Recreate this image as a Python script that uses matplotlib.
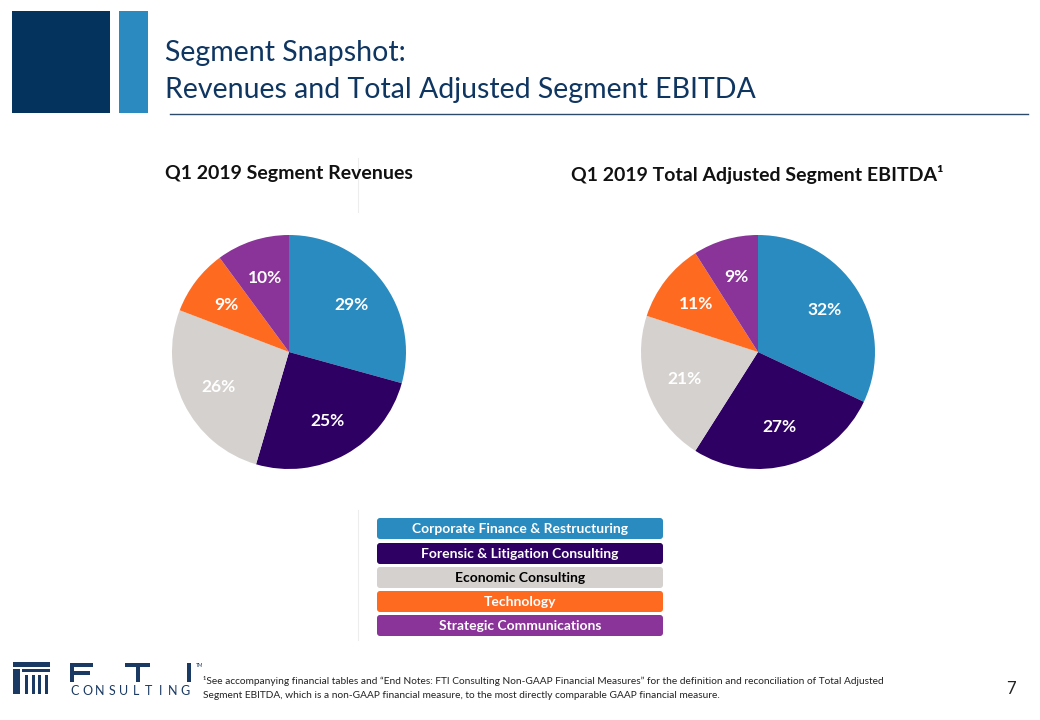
import matplotlib
matplotlib.use("Agg")
import matplotlib.pyplot as plt
from matplotlib.patches import Rectangle, FancyBboxPatch
from matplotlib.lines import Line2D

# ---- data ----
segments = ["Corporate Finance & Restructuring", "Forensic & Litigation Consulting",
            "Economic Consulting", "Technology", "Strategic Communications"]
revenue_pct = [29, 25, 26, 9, 10]
ebitda_pct = [32, 27, 21, 11, 9]
seg_colors = ["#2A8BC0", "#2E0063", "#D5D1CE", "#FF6A21", "#8A3399"]
legend_text_colors = ["white", "white", "black", "white", "white"]

title_lines = ["Segment Snapshot:", "Revenues and Total Adjusted Segment EBITDA"]
left_title = "Q1 2019 Segment Revenues"
right_title = "Q1 2019 Total Adjusted Segment EBITDA\u00b9"
footnote = ["\u00b9See accompanying financial tables and \u201cEnd Notes: FTI Consulting Non-GAAP Financial Measures\u201d for the definition and reconciliation of Total Adjusted",
            "Segment EBITDA, which is a non-GAAP financial measure, to the most directly comparable GAAP financial measure."]
page_no = "7"
logo_word = "CONSULTING"

W, H = 1040, 720
FONT = "Lato"
plt.rcParams["font.family"] = [FONT, "DejaVu Sans"]

fig = plt.figure(figsize=(W / 100, H / 100), dpi=100)
fig.patch.set_facecolor("white")

def fx(x):
    return x / W

def fy(y):
    return 1 - y / H

# background overlay axes in pixel coordinates
bg = fig.add_axes([0, 0, 1, 1])
bg.set_xlim(0, W)
bg.set_ylim(H, 0)
bg.axis("off")

# header blocks
bg.add_patch(Rectangle((12, 11), 98, 102, color="#04335E", lw=0))
bg.add_patch(Rectangle((119, 11), 29, 102, color="#2B8BC0", lw=0))
bg.text(165, 61, title_lines[0], fontsize=20.5, color="#0F3561", va="baseline", ha="left")
bg.text(165, 98, title_lines[1], fontsize=20.5, color="#0F3561", va="baseline", ha="left")
bg.add_line(Line2D([170, 1028], [114, 114], color="#2E4A6B", lw=1.0))

# faint divider lines
for y0, y1 in [(158, 212), (510, 640)]:
    bg.add_line(Line2D([358, 358], [y0, y1], color="#EDEDED", lw=0.8))

# chart titles
bg.text(289, 174, left_title, fontsize=14, fontweight="bold", color="#111111", ha="center", va="center")
bg.text(757, 174, right_title, fontsize=14, fontweight="bold", color="#111111", ha="center", va="center")

# pies
R = 117
def draw_pie(cx, cy, vals):
    ax = fig.add_axes([fx(cx - R), fy(cy + R), 2 * R / W, 2 * R / H])
    labels = [f"{v}%" for v in vals]
    wedges, texts = ax.pie(vals, colors=seg_colors, startangle=90, counterclock=False,
                           labels=labels, labeldistance=0.67,
                           wedgeprops=dict(linewidth=0))
    for t in texts:
        t.set_ha("center")
        t.set_va("center")
        t.set_color("white")
        t.set_fontweight("bold")
        t.set_fontsize(12.5)
    ax.set_xlim(-1, 1)
    ax.set_ylim(-1, 1)
    ax.set_aspect("auto")
    ax.axis("off")

draw_pie(289, 352, revenue_pct)
draw_pie(758, 352, ebitda_pct)

# legend boxes
ly = [517, 542, 566, 590, 614]
for i, (name, c, tc) in enumerate(zip(segments, seg_colors, legend_text_colors)):
    bg.add_patch(FancyBboxPatch((377, ly[i] + 1), 286, 21,
                                boxstyle="round,pad=0,rounding_size=3",
                                fc=c, ec="none"))
    bg.text(520, ly[i] + 12, name, fontsize=10, fontweight="bold", color=tc,
            ha="center", va="center")

# logo
navy = "#1B3A63"
# icon
bg.add_patch(Rectangle((13, 662), 37, 5, color=navy, lw=0))
bg.add_patch(Rectangle((22, 669), 28, 3, color=navy, lw=0))
bg.add_patch(Rectangle((13, 669), 7, 25, color=navy, lw=0))
for k in range(4):
    bg.add_patch(Rectangle((25 + k * 6.5, 675), 3, 19, color=navy, lw=0))
# letters F T I
bg.add_patch(Rectangle((70, 663), 4, 19, color=navy, lw=0))
bg.add_patch(Rectangle((70, 663), 23, 4, color=navy, lw=0))
bg.add_patch(Rectangle((70, 671), 20, 4, color=navy, lw=0))
bg.add_patch(Rectangle((125, 663), 25, 4, color=navy, lw=0))
bg.add_patch(Rectangle((135.5, 663), 4, 19, color=navy, lw=0))
bg.add_patch(Rectangle((187, 663), 4, 19, color=navy, lw=0))
bg.text(196, 663, "TM", fontsize=3.5, color=navy, ha="left", va="top")
for k, ch in enumerate(logo_word):
    bg.text(75 + k * 12.2, 695, ch, fontsize=9, color=navy, ha="center", va="baseline")

# footnote
bg.text(203, 684, footnote[0], fontsize=7.3, color="#222222", ha="left", va="baseline")
bg.text(203, 698, footnote[1], fontsize=7.3, color="#222222", ha="left", va="baseline")
bg.text(1011, 694, page_no, fontsize=12, color="#222222", ha="center", va="baseline")

fig.savefig("out.png", dpi=100, facecolor="white")
